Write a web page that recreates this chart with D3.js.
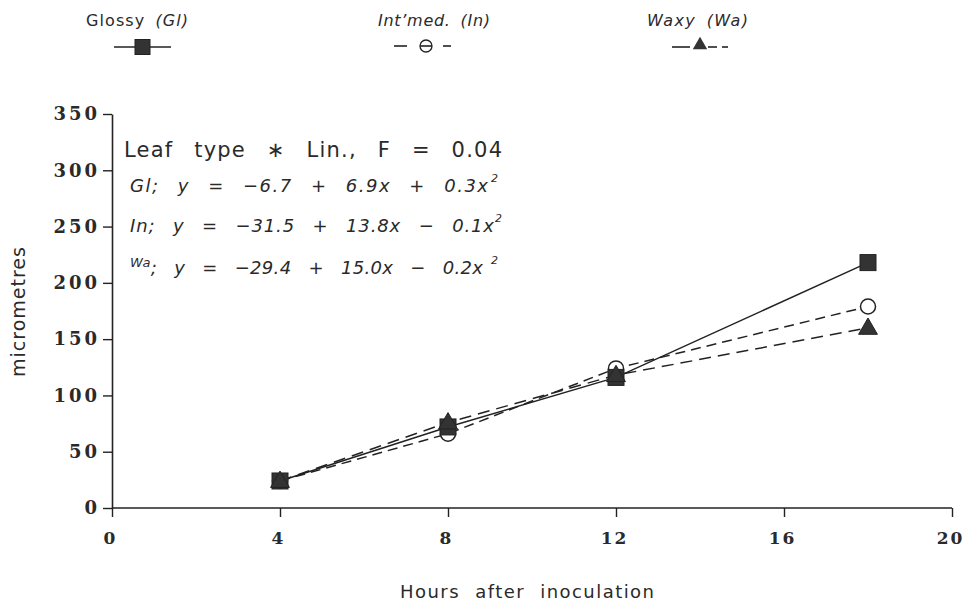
<!doctype html>
<html>
<head>
<meta charset="utf-8">
<script src="https://d3js.org/d3.v7.min.js"></script>
<style>
  body { margin: 0; background: #fff; }
  text { fill: #2a2a2a; }
</style>
</head>
<body>
<script>
// data
var hours = [4, 8, 12, 18];
var glossy = [24, 72, 116, 218];
var intmed = [24, 66, 124, 179];
var waxy = [24, 76, 118, 160];
var xTicks = [0, 4, 8, 12, 16, 20];
var yTicks = [0, 50, 100, 150, 200, 250, 300, 350];

var width = 966, height = 604;
var svg = d3.select("body").append("svg")
    .attr("width", width).attr("height", height);

var x = d3.scaleLinear().domain([0, 20]).range([112, 952]);
var y = d3.scaleLinear().domain([0, 350]).range([508, 114]);

var serif = "'DejaVu Serif', serif";
var sans = "'DejaVu Sans', 'Liberation Sans', sans-serif";

// axes
var xAxis = svg.append("g").attr("transform", "translate(0,508)")
    .call(d3.axisBottom(x).tickValues(xTicks).tickSize(9).tickPadding(12).tickSizeOuter(0));
var yAxis = svg.append("g").attr("transform", "translate(112,0)")
    .call(d3.axisLeft(y).tickValues(yTicks).tickSize(9).tickPadding(3).tickSizeOuter(0));

[xAxis, yAxis].forEach(function (g) {
    g.select(".domain").attr("stroke", "#222").attr("stroke-width", 1.6);
    g.selectAll(".tick line").attr("stroke", "#222").attr("stroke-width", 1.4);
    g.selectAll(".tick text")
        .attr("font-family", serif).attr("font-weight", "bold")
        .attr("font-size", 18).attr("letter-spacing", 3).attr("fill", "#222");
});
xAxis.selectAll(".tick text")
    .attr("dy", "0.9em").attr("dx", -2)
    .attr("font-size", 17).attr("letter-spacing", 2);
xAxis.select(".domain").attr("d", "M112,0H952");

// axis titles
svg.append("text")
    .attr("x", 400).attr("y", 598)
    .attr("font-family", sans).attr("font-size", 18)
    .attr("textLength", 254).attr("lengthAdjust", "spacing").attr("word-spacing", 8)
    .text("Hours after inoculation");

svg.append("text")
    .attr("transform", "translate(25,377) rotate(-90)")
    .attr("font-family", sans).attr("font-size", 19)
    .attr("textLength", 130).attr("lengthAdjust", "spacing")
    .text("micrometres");

// series
var series = [
    {name: "Glossy", abbr: "(Gl)", values: glossy, dash: null, symbol: "square"},
    {name: "Int\u2019med.", abbr: "(In)", values: intmed, dash: "10,6", symbol: "circle"},
    {name: "Waxy", abbr: "(Wa)", values: waxy, dash: "12,7", symbol: "triangle"}
];

var line = d3.line()
    .x(function (d) { return x(d[0]); })
    .y(function (d) { return y(d[1]); });

function drawSymbol(g, type, cx, cy, s) {
    s = s || 16;
    if (type === "square") {
        g.append("rect").attr("x", cx - s / 2).attr("y", cy - s / 2)
            .attr("width", s).attr("height", s)
            .attr("fill", "#333").attr("stroke", "#222");
    } else if (type === "circle") {
        g.append("circle").attr("cx", cx).attr("cy", cy).attr("r", s * 0.47)
            .attr("fill", "#fff").attr("stroke", "#222").attr("stroke-width", 1.5);
    } else {
        g.append("path")
            .attr("d", d3.symbol().type(d3.symbolTriangle).size(s * s * 0.6)())
            .attr("transform", "translate(" + cx + "," + (cy + 1) + ")")
            .attr("fill", "#333").attr("stroke", "#222");
    }
}

series.forEach(function (s) {
    var pts = hours.map(function (h, i) { return [h, s.values[i]]; });
    svg.append("path")
        .attr("d", line(pts))
        .attr("fill", "none").attr("stroke", "#222").attr("stroke-width", 1.5)
        .attr("stroke-dasharray", s.dash);
});
[series[1], series[0], series[2]].forEach(function (s) {
    var g = svg.append("g");
    hours.forEach(function (h, i) { drawSymbol(g, s.symbol, x(h), y(s.values[i])); });
});

// legend
var legendText = [[86, 102], [378, 112], [647, 101]];
series.forEach(function (s, i) {
    var t = svg.append("text")
        .attr("x", legendText[i][0]).attr("y", 26)
        .attr("font-family", sans).attr("font-size", 16).attr("word-spacing", 4)
        .attr("textLength", legendText[i][1]).attr("lengthAdjust", "spacing");
    t.append("tspan").attr("font-style", i === 0 ? "normal" : "italic").text(s.name + " ");
    t.append("tspan").attr("font-style", "italic").text(s.abbr);
});

function seg(g, x1, x2, yy) {
    g.append("line").attr("x1", x1).attr("x2", x2).attr("y1", yy).attr("y2", yy)
        .attr("stroke", "#222").attr("stroke-width", 1.6);
}
var lg = svg.append("g");
seg(lg, 114, 171, 47);
drawSymbol(lg, "square", 142.5, 47, 15);

seg(lg, 394, 407, 46);
seg(lg, 443, 451, 46);
lg.append("circle").attr("cx", 426).attr("cy", 46).attr("r", 6)
    .attr("fill", "#fff").attr("stroke", "#222").attr("stroke-width", 1.3);
seg(lg, 420, 432, 46);

seg(lg, 672, 690, 47);
seg(lg, 708, 717, 47);
seg(lg, 722, 728, 47);
lg.append("path")
    .attr("d", d3.symbol().type(d3.symbolTriangle).size(90)())
    .attr("transform", "translate(700,45)")
    .attr("fill", "#333");

// annotation block
svg.append("text")
    .attr("x", 124).attr("y", 157)
    .attr("font-family", sans).attr("font-size", 21).attr("word-spacing", 13)
    .attr("textLength", 378).attr("lengthAdjust", "spacing")
    .text("Leaf type \u2217 Lin., F = 0.04");

var equations = [
    {lab: "Gl;", body: "y = \u22126.7 + 6.9x + 0.3x", end: 488, sup: 491, base: 192},
    {lab: "In;", body: "y = \u221231.5 + 13.8x \u2212 0.1x", end: 494, sup: 495, base: 232},
    {lab: "Wa;", body: "y = \u221229.4 + 15.0x \u2212 0.2x", end: 483, sup: 491, base: 274}
];
equations.forEach(function (e, i) {
    var t = svg.append("text")
        .attr("x", 130).attr("y", e.base)
        .attr("font-family", sans).attr("font-size", 18).attr("font-style", "italic")
        .attr("word-spacing", 11)
        .attr("textLength", e.end - 130).attr("lengthAdjust", "spacing");
    if (i === 2) {
        t.append("tspan").attr("font-size", 13).attr("dy", -7).text("Wa");
        t.append("tspan").attr("dy", 7).text("; " + e.body);
    } else {
        t.append("tspan").text(e.lab + "  " + e.body);
    }
    svg.append("text")
        .attr("x", e.sup).attr("y", e.base - 10)
        .attr("font-family", sans).attr("font-size", 11).attr("font-style", "italic")
        .text("2");
});
</script>
</body>
</html>
